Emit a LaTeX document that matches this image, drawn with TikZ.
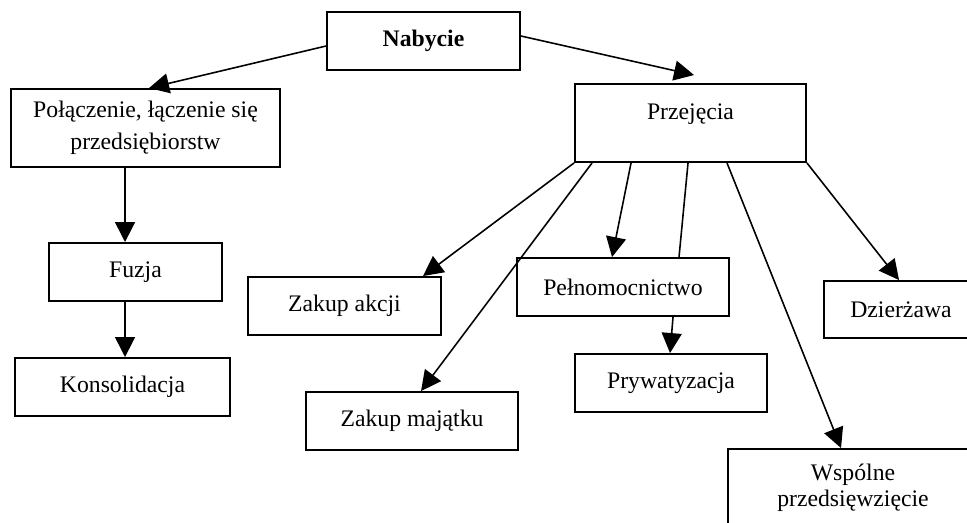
\documentclass[tikz,border=0pt]{standalone}
\usepackage{fontspec}
\setmainfont{Liberation Serif}
\usepackage{tikz}
\usetikzlibrary{arrows.meta,calc,positioning}

\begin{document}
\begin{tikzpicture}[x=0.02cm,y=-0.02cm,>={Triangle[length=0.4cm,width=0.4cm]},
  blok/.style={draw,line width=1.1pt,inner sep=0pt,align=center,minimum height=1.16cm,
    font=\fontsize{13.5}{15}\selectfont},
  strz/.style={->,line width=0.9pt}]
  \useasboundingbox (0,0) rectangle (967,522);
  \clip (0,0) rectangle (967,522);
  \node[blok,minimum width=3.86cm] (nabycie) at (423.5,41) {\textbf{Nabycie}};
  \node[blok,minimum width=5.38cm,minimum height=1.56cm] (polaczenie) at (145.5,128)
    {Połączenie, łączenie się\\[3pt]przedsiębiorstw};
  \node[blok,minimum width=4.62cm,minimum height=1.56cm] (przejecia) at (690.5,123)
    {Przejęcia\\[-6pt]\strut};
  \node[blok,minimum width=3.46cm] (fuzja) at (135.5,272) {Fuzja};
  \node[blok,minimum width=4.3cm] (konsolidacja) at (122.5,387) {Konsolidacja};
  \node[blok,minimum width=3.86cm] (akcje) at (344.5,306) {Zakup akcji};
  \node[blok,minimum width=4.24cm] (majatek) at (412,421) {Zakup majątku};
  \node[blok,minimum width=4.24cm] (pelnomocnictwo) at (623,287) {Pełnomocnictwo};
  \node[blok,minimum width=3.84cm] (prywatyzacja) at (671,383) {Prywatyzacja};
  \node[blok,minimum width=3.08cm,minimum height=1.14cm] (dzierzawa) at (901,309.5) {Dzierżawa};
  \node[blok,minimum width=5cm,minimum height=1.56cm] (wspolne) at (853,488)
    {Wspólne\\przedsięwzięcie};

  \draw[strz] ([yshift=-0.1cm]nabycie.west) -- ([xshift=2.78cm]polaczenie.north west);
  \draw[strz] ([yshift=0.1cm]nabycie.east) -- ([xshift=2.4cm,yshift=0.16cm]przejecia.north west);
  \draw[strz] ([xshift=2.3cm]polaczenie.south west) -- ([xshift=1.54cm]fuzja.north west);
  \draw[strz] ([xshift=1.54cm]fuzja.south west) -- ([xshift=2.22cm]konsolidacja.north west);
  \draw[strz] (przejecia.south west) -- ([xshift=3.52cm]akcje.north west);
  \draw[strz] ([xshift=0.36cm]przejecia.south west) -- ([xshift=2.32cm]majatek.north west);
  \draw[strz] ([xshift=1.14cm]przejecia.south west) -- ([xshift=1.92cm]pelnomocnictwo.north west);
  \draw[line width=0.9pt] ([xshift=2.28cm]przejecia.south west) -- ([xshift=3.26cm]pelnomocnictwo.north west);
  \draw[strz] ([xshift=3.06cm]przejecia.south west) -- ([xshift=2.28cm]wspolne.north west);
  \draw[strz] (przejecia.south east) -- ([xshift=1.52cm]dzierzawa.north west);
  \draw[strz] ([xshift=3.14cm]pelnomocnictwo.south west) -- ([xshift=1.92cm]prywatyzacja.north west);
\end{tikzpicture}
\end{document}
